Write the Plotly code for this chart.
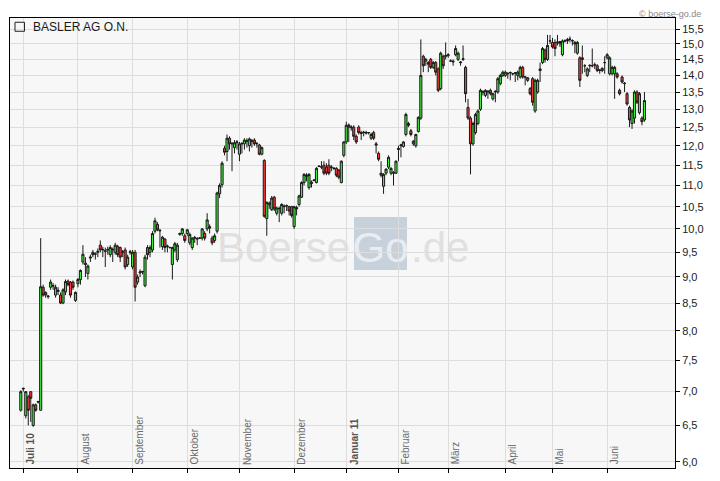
import pandas as pd
import plotly.graph_objects as go

jun10 = [(6.72, 7.02, 6.70, 7.00)]
jul10 = [
    (7.04, 7.06, 7.00, 7.05), (6.64, 7.00, 6.60, 7.00), (6.92, 6.95, 6.50, 6.72), (7.00, 7.00, 6.55, 6.90),
    (6.50, 6.82, 6.48, 6.80), (6.80, 6.82, 6.70, 6.72), (6.84, 6.86, 6.82, 6.85), (6.72, 9.80, 6.72, 8.81),
    (8.80, 8.85, 8.62, 8.65), (8.70, 8.72, 8.60, 8.65), (8.62, 8.65, 8.58, 8.63), (8.80, 8.95, 8.75, 8.90),
    (8.82, 8.88, 8.75, 8.83), (8.65, 8.85, 8.60, 8.80), (8.72, 8.80, 8.65, 8.74), (8.65, 8.70, 8.48, 8.50),
    (8.50, 8.78, 8.48, 8.75), (8.71, 8.95, 8.65, 8.91), (8.92, 8.95, 8.82, 8.85), (8.90, 8.92, 8.60, 8.65),
    (8.90, 8.93, 8.75, 8.80), (8.55, 8.72, 8.52, 8.70),
]
aug10 = [
    (8.87, 8.98, 8.80, 8.95), (8.95, 9.15, 8.85, 9.13), (9.30, 9.65, 9.25, 9.46), (9.28, 9.40, 9.00, 9.25),
    (9.07, 9.25, 8.95, 9.22), (9.38, 9.45, 9.30, 9.40), (9.50, 9.55, 9.40, 9.45), (9.46, 9.50, 9.35, 9.47),
    (9.50, 9.58, 9.40, 9.52), (9.65, 9.75, 9.50, 9.55), (9.55, 9.62, 9.40, 9.56), (9.52, 9.60, 9.20, 9.53),
    (9.55, 9.62, 9.45, 9.56), (9.45, 9.65, 9.40, 9.60), (9.55, 9.60, 9.30, 9.56), (9.50, 9.70, 9.45, 9.65),
    (9.62, 9.66, 9.40, 9.45), (9.60, 9.62, 9.30, 9.40), (9.50, 9.55, 9.40, 9.51), (9.55, 9.60, 9.15, 9.20),
    (9.25, 9.45, 9.20, 9.40), (9.50, 9.55, 9.45, 9.51),
]
sep10 = [
    (9.20, 9.55, 9.15, 9.50), (9.50, 9.55, 8.53, 8.80), (8.90, 9.05, 8.85, 9.00), (9.08, 9.15, 9.00, 9.10),
    (9.10, 9.12, 9.05, 9.11), (8.83, 9.45, 8.80, 9.40), (9.60, 9.65, 9.35, 9.45), (9.50, 9.65, 9.40, 9.60),
    (9.55, 9.95, 9.50, 9.90), (9.95, 10.25, 9.90, 10.18), (10.10, 10.15, 9.95, 9.98), (9.97, 10.00, 9.60, 9.96),
    (9.62, 9.85, 9.55, 9.82), (9.78, 9.80, 9.50, 9.60), (9.62, 9.66, 9.50, 9.63), (9.60, 9.62, 9.58, 9.60),
    (9.25, 9.62, 8.95, 9.60), (9.55, 9.72, 9.50, 9.68), (9.35, 9.70, 9.30, 9.65), (9.88, 9.92, 9.85, 9.90),
    (9.90, 10.02, 9.85, 10.00), (9.85, 9.90, 9.70, 9.75),
]
okt10 = [
    (9.90, 10.00, 9.85, 9.98), (9.70, 9.92, 9.65, 9.88), (9.60, 9.82, 9.55, 9.80), (9.80, 9.85, 9.70, 9.81),
    (9.78, 9.82, 9.65, 9.79), (9.80, 9.82, 9.78, 9.80), (9.80, 10.02, 9.75, 10.00), (9.90, 9.95, 9.75, 9.80),
    (10.00, 10.35, 9.95, 10.20), (10.05, 10.10, 9.90, 10.02), (9.80, 9.85, 9.65, 9.70), (9.75, 9.90, 9.70, 9.85),
    (9.95, 10.85, 9.90, 10.82), (10.80, 11.05, 10.70, 11.00), (11.02, 11.60, 10.95, 11.55), (11.93, 12.00, 11.75, 11.83),
    (11.85, 12.30, 11.60, 12.20), (12.20, 12.25, 11.90, 12.05), (12.05, 12.10, 11.35, 12.06), (11.95, 12.15, 11.80, 12.08),
    (12.08, 12.15, 11.90, 12.10),
]
nov10 = [
    (11.78, 12.10, 11.60, 12.05), (12.05, 12.10, 11.80, 12.06), (12.05, 12.20, 11.90, 12.15), (12.12, 12.20, 11.95, 12.13),
    (12.00, 12.22, 11.85, 12.18), (12.12, 12.18, 11.95, 12.13), (12.15, 12.20, 12.00, 12.05), (12.05, 12.10, 11.95, 12.06),
    (12.02, 12.05, 11.75, 11.78), (11.78, 11.98, 11.75, 11.95), (11.62, 11.65, 10.25, 10.28), (10.23, 10.62, 9.85, 10.60),
    (10.58, 10.62, 10.45, 10.55), (10.43, 10.75, 10.40, 10.70), (10.72, 10.75, 10.40, 10.45), (10.35, 10.50, 10.30, 10.47),
    (10.45, 10.50, 10.15, 10.46), (10.35, 10.58, 10.30, 10.55), (10.50, 10.55, 10.35, 10.51), (10.52, 10.55, 10.40, 10.52),
    (10.50, 10.52, 10.30, 10.40), (10.50, 10.52, 10.25, 10.30),
]
dez10 = [
    (10.05, 10.52, 10.00, 10.50), (10.48, 10.52, 10.30, 10.45), (10.55, 10.78, 10.50, 10.75), (10.72, 11.10, 10.70, 11.07),
    (11.07, 11.30, 11.00, 11.27), (11.22, 11.30, 11.10, 11.25), (10.95, 11.30, 10.90, 11.27), (11.08, 11.12, 10.95, 11.05),
    (11.12, 11.15, 11.10, 11.13), (11.07, 11.45, 11.05, 11.42), (11.47, 11.50, 11.45, 11.47), (11.45, 11.60, 11.40, 11.46),
    (11.50, 11.60, 11.25, 11.30), (11.45, 11.55, 11.25, 11.30), (11.50, 11.65, 11.25, 11.30), (11.44, 11.50, 11.35, 11.45),
    (11.42, 11.45, 11.38, 11.42), (11.42, 11.45, 11.20, 11.25), (11.38, 11.40, 11.15, 11.20), (11.07, 11.62, 11.05, 11.60),
    (11.75, 12.12, 11.70, 12.10),
]
jan11 = [
    (12.10, 12.65, 12.05, 12.55), (12.56, 12.60, 12.10, 12.50), (12.48, 12.55, 12.40, 12.50), (12.50, 12.55, 12.15, 12.25),
    (12.25, 12.30, 12.05, 12.10), (12.50, 12.55, 12.30, 12.35), (12.35, 12.40, 12.15, 12.33), (12.35, 12.40, 12.25, 12.36),
    (12.35, 12.40, 12.30, 12.34), (12.35, 12.36, 12.30, 12.35), (12.20, 12.35, 12.15, 12.30), (12.35, 12.40, 12.15, 12.20),
    (12.05, 12.10, 11.80, 12.02), (11.80, 11.85, 11.60, 11.65), (11.30, 11.60, 11.20, 11.25), (10.98, 11.30, 10.80, 11.27),
    (11.30, 11.42, 11.25, 11.40), (11.45, 11.75, 11.40, 11.70), (11.30, 11.45, 11.25, 11.42), (11.30, 11.35, 11.00, 11.31),
    (11.30, 11.62, 11.28, 11.60),
]
feb11 = [
    (11.90, 12.00, 11.60, 11.93), (12.00, 12.05, 11.70, 12.02), (11.98, 12.12, 11.95, 12.10), (12.30, 12.90, 12.25, 12.85),
    (12.60, 12.65, 12.50, 12.55), (12.40, 12.45, 12.25, 12.30), (12.05, 12.15, 12.00, 12.12), (12.00, 12.32, 11.95, 12.30),
    (12.38, 12.80, 12.35, 12.77), (12.75, 15.15, 12.70, 14.00), (14.60, 14.65, 14.10, 14.30), (14.45, 14.55, 14.30, 14.50),
    (14.40, 14.45, 14.10, 14.35), (14.50, 14.55, 14.20, 14.25), (14.25, 14.45, 14.20, 14.40), (14.40, 14.45, 14.00, 14.10),
    (14.20, 14.25, 13.50, 13.55), (13.60, 14.75, 13.55, 14.70), (14.60, 14.65, 14.20, 14.30), (14.60, 15.05, 14.50, 14.62),
]
mar11 = [
    (14.62, 14.70, 14.55, 14.65), (14.45, 14.50, 14.42, 14.45), (14.42, 14.50, 14.30, 14.44), (14.65, 14.95, 14.60, 14.85),
    (14.50, 14.75, 14.45, 14.70), (14.42, 14.45, 14.30, 14.40), (14.50, 14.95, 14.45, 14.52), (14.25, 14.30, 13.20, 13.45),
    (13.05, 13.30, 12.70, 12.75), (12.75, 12.80, 11.27, 12.05), (12.05, 12.65, 12.00, 12.60), (12.35, 12.90, 12.30, 12.85),
    (12.60, 13.00, 12.55, 12.95), (13.00, 13.60, 12.95, 13.55), (13.50, 13.55, 13.40, 13.50), (13.40, 13.58, 13.35, 13.55),
    (13.50, 13.55, 13.30, 13.52), (13.55, 13.60, 13.40, 13.45), (13.30, 13.48, 13.25, 13.45), (13.50, 13.55, 13.20, 13.52),
    (13.50, 13.95, 13.45, 13.90), (13.75, 14.05, 13.70, 14.00), (14.00, 14.15, 13.95, 14.10),
]
apr11 = [
    (14.00, 14.15, 13.95, 14.10), (14.05, 14.10, 13.90, 14.06), (14.08, 14.12, 13.85, 14.09), (14.05, 14.08, 14.00, 14.05),
    (14.07, 14.10, 13.80, 14.08), (14.00, 14.15, 13.85, 14.10), (13.95, 14.30, 13.90, 14.25), (14.25, 14.30, 13.90, 13.95),
    (13.95, 13.97, 13.70, 13.95), (13.85, 13.95, 13.80, 13.93), (13.60, 13.65, 13.40, 13.45), (13.90, 13.95, 13.10, 13.20),
    (12.95, 13.90, 12.90, 13.85), (13.50, 13.90, 13.45, 13.85), (14.15, 14.40, 13.80, 14.20), (14.40, 14.90, 14.35, 14.85),
    (14.80, 14.85, 14.40, 14.50), (14.50, 15.30, 14.45, 14.95), (15.10, 15.30, 15.00, 15.10),
]
mai11 = [
    (15.05, 15.20, 14.85, 14.90), (15.05, 15.15, 14.60, 14.85), (15.05, 15.30, 14.95, 15.06), (15.00, 15.10, 14.90, 15.08),
    (14.65, 15.15, 14.60, 15.10), (15.10, 15.15, 15.05, 15.10), (15.15, 15.20, 15.00, 15.10), (15.15, 15.25, 15.05, 15.16),
    (15.10, 15.15, 14.95, 15.11), (15.05, 15.10, 14.70, 15.00), (14.70, 15.10, 14.65, 15.05), (14.55, 14.60, 13.65, 13.85),
    (14.55, 14.95, 14.05, 14.50), (14.30, 14.35, 14.10, 14.30), (14.00, 14.25, 13.95, 14.20), (14.30, 14.35, 14.10, 14.31),
    (14.30, 14.85, 14.25, 14.30), (14.32, 14.40, 14.20, 14.33), (14.30, 14.35, 14.10, 14.15), (14.15, 14.20, 14.05, 14.16),
    (14.15, 14.25, 14.10, 14.22), (14.40, 14.60, 14.05, 14.40),
]
jun11 = [
    (14.55, 14.70, 14.50, 14.65), (14.05, 14.60, 14.00, 14.55), (14.05, 14.30, 14.00, 14.25), (14.05, 14.30, 13.30, 14.25),
    (14.05, 14.10, 13.90, 13.95), (13.55, 13.60, 13.40, 13.45), (13.95, 14.00, 13.75, 13.80), (13.75, 13.80, 13.50, 13.76),
    (13.45, 13.50, 13.10, 13.15), (13.05, 13.10, 12.50, 12.70), (12.60, 13.00, 12.45, 12.95), (12.75, 13.55, 12.60, 13.50),
    (13.50, 13.55, 13.15, 13.20), (12.90, 13.50, 12.85, 13.45), (12.75, 12.80, 12.55, 12.65), (12.70, 13.50, 12.65, 13.25),
]

months = [jun10, jul10, aug10, sep10, okt10, nov10, dez10, jan11, feb11, mar11, apr11, mai11, jun11]
month_labels = ["Juli 10", "August", "September", "Oktober", "November", "Dezember",
                "Januar 11", "Februar", "März", "April", "Mai", "Juni"]
y_ticks = [6.0, 6.5, 7.0, 7.5, 8.0, 8.5, 9.0, 9.5, 10.0, 10.5, 11.0, 11.5, 12.0, 12.5, 13.0, 13.5, 14.0, 14.5, 15.0, 15.5]
holidays = ["2010-12-24", "2010-12-31", "2011-04-22", "2011-04-25"]

# Handelstage (Xetra), die Achse laeuft ueber den Index der Handelstage
days = pd.bdate_range("2010-06-30", "2011-06-22")
days = days[~days.isin(pd.to_datetime(holidays))]
rows = [r for m in months for r in m]
assert len(rows) == len(days)
df = pd.DataFrame(rows, columns=["Open", "High", "Low", "Close"], index=days)
xs = list(range(len(df)))
month_starts = [i for i in range(1, len(days)) if days[i].month != days[i - 1].month]

fig = go.Figure()
fig.add_trace(go.Candlestick(
    x=xs, open=df["Open"], high=df["High"], low=df["Low"], close=df["Close"],
    increasing=dict(line=dict(color="#1a1a1a", width=1), fillcolor="#3cf03c"),
    decreasing=dict(line=dict(color="#1a1a1a", width=1), fillcolor="#ff3838"),
    whiskerwidth=0, showlegend=False, hoverinfo="skip",
))

# Monatsnamen senkrecht im Chart
for pos, name in zip(month_starts, month_labels):
    bold = name.endswith("10") or name.endswith("11")
    fig.add_annotation(
        x=pos, y=0.003, xref="x", yref="paper", text=f"<b>{name}</b>" if bold else name,
        textangle=-90, xanchor="left", yanchor="bottom", xshift=0, showarrow=False,
        font=dict(family="Liberation Sans", size=10, color="#555555" if bold else "#6a6a6a"),
    )

# Wasserzeichen unter den Kerzen
wm_font = dict(family="Liberation Sans", size=42, color="#e0e0e0")
fig.add_shape(type="rect", xref="paper", yref="paper", x0=0.25, x1=0.5158, y0=0.44, y1=0.558,
              line_width=0, layer="below",
              label=dict(text="Boerse", font=wm_font, textposition="middle right", padding=0))
fig.add_shape(type="rect", xref="paper", yref="paper", x0=0.5173, x1=0.597, y0=0.44, y1=0.558,
              line_width=0, fillcolor="#c7d1db", layer="below",
              label=dict(text="Go", font=dict(family="Liberation Sans", size=42, color="#e9edf1"),
                         textposition="middle center", padding=0))
fig.add_shape(type="rect", xref="paper", yref="paper", x0=0.5985, x1=0.75, y0=0.44, y1=0.558,
              line_width=0, layer="below",
              label=dict(text=".de", font=wm_font, textposition="middle left", padding=0))

# Titel mit Kaestchen
fig.add_shape(type="rect", xref="paper", yref="paper", x0=0.0075, x1=0.0218, y0=0.9705, y1=0.9905,
              line=dict(color="#222222", width=1))
fig.add_annotation(x=0.031, y=0.981, xref="paper", yref="paper", text="BASLER AG O.N.",
                   xanchor="left", yanchor="middle", showarrow=False,
                   font=dict(family="Liberation Sans", size=12, color="#1a1a1a"))
fig.add_annotation(x=1.0406, y=1.0222, xref="paper", yref="paper", text="© boerse-go.de",
                   xanchor="right", yanchor="top", showarrow=False, borderpad=0,
                   font=dict(family="Liberation Sans", size=9, color="#8a8a8a"))

# die Seite hat 8px Rand, daher Figur etwas kleiner
fig.update_layout(
    width=712, height=473,
    margin=dict(l=2, r=45, t=10, b=13),
    paper_bgcolor="white", plot_bgcolor="#f7f7f7",
    separators=",.",
    boxgap=0.15, boxgroupgap=0,
    xaxis=dict(
        range=[-4.35, 263.3], tickvals=month_starts, showticklabels=False,
        ticks="outside", ticklen=4, tickcolor="black",
        showgrid=True, gridcolor="#dddddd", gridwidth=1, zeroline=False,
        showline=True, linecolor="black", linewidth=1, mirror=True,
        rangeslider_visible=False,
    ),
    yaxis=dict(
        type="log", side="right", range=[0.7724, 1.2008],
        tickvals=y_ticks, tickformat=".1f",
        ticks="outside", ticklen=4, tickcolor="black",
        tickfont=dict(family="Liberation Sans", size=11, color="#222222"),
        showgrid=True, gridcolor="#dddddd", gridwidth=1, zeroline=False,
        showline=True, linecolor="black", linewidth=1, mirror=True,
    ),
)

fig.write_html("out.html")
